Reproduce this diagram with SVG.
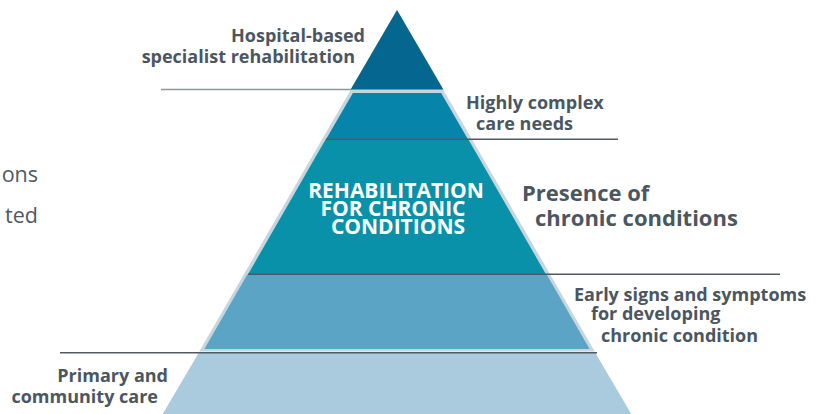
<svg xmlns="http://www.w3.org/2000/svg" width="828" height="414" viewBox="0 0 828 414">
<style>
.lbl{font-family:"Open Sans","Liberation Sans",sans-serif;font-weight:bold;font-size:18px;fill:#4b5661}
.big{font-size:22px}
.reg{font-family:"Open Sans","Liberation Sans",sans-serif;font-weight:normal;font-size:21.5px;fill:#4f5962}
.in{font-family:"Open Sans","Liberation Sans",sans-serif;font-weight:bold;font-size:21px;fill:#ffffff;text-anchor:middle}
.dark{stroke:#4f5a62;stroke-width:1.5;fill:none}
.grey{stroke:#8d969c;stroke-width:1.5;fill:none}
</style>
<rect width="828" height="414" fill="#ffffff"/>
<g id="frame">
<polygon points="397,10 594.8,351.5 199.2,351.5" fill="#c5d6de"/>
</g>
<g id="fragments">
<text class="reg" x="38" y="182" text-anchor="end">ons</text>
<text class="reg" x="38" y="223" text-anchor="end">ted</text>
</g>
<g id="layer1">
<polygon points="397,10 443.4,89.5 350.6,89.5" fill="#05668f"/>
<text class="lbl" x="365" y="42" text-anchor="end">Hospital-based</text>
<text class="lbl" x="355" y="63" text-anchor="end">specialist rehabilitation</text>
</g>
<g id="layer2">
<polygon points="352.9,93 441.1,93 467.8,139 326.2,139" fill="#0784aa"/>
<text class="lbl" x="466" y="109">Highly complex</text>
<text class="lbl" x="476" y="130">care needs</text>
</g>
<g id="layer3">
<polygon points="325.6,139.5 468.4,139.5 545.8,274 248.2,274" fill="#0891a9"/>
<text class="in" x="396" y="198">REHABILITATION</text>
<text class="in" x="393" y="216">FOR CHRONIC</text>
<text class="in" x="398" y="234">CONDITIONS</text>
<text class="lbl big" x="522" y="201">Presence of</text>
<text class="lbl big" x="535" y="226">chronic conditions</text>
</g>
<g id="layer4">
<polygon points="247.3,274.5 546.7,274.5 589.6,349 204.4,349" fill="#5ba4c5"/>
<text class="lbl" x="574" y="301">Early signs and symptoms</text>
<text class="lbl" x="591" y="320">for developing</text>
<text class="lbl" x="601" y="341.5">chronic condition</text>
</g>
<g id="layer5">
<polygon points="199.2,352 594.8,352 631.3,414 162.7,414" fill="#aacadd"/>
<text class="lbl" x="168" y="382" text-anchor="end">Primary and</text>
<text class="lbl" x="158" y="403" text-anchor="end">community care</text>
</g>
<g id="connectors">
<line class="grey" x1="161" y1="89.5" x2="351" y2="89.5"/>
<line class="dark" x1="326" y1="139.3" x2="618" y2="139.3"/>
<line class="dark" x1="248" y1="274.2" x2="780" y2="274.2"/>
<line class="dark" x1="60" y1="352.7" x2="597" y2="352.7"/>
</g>
</svg>
